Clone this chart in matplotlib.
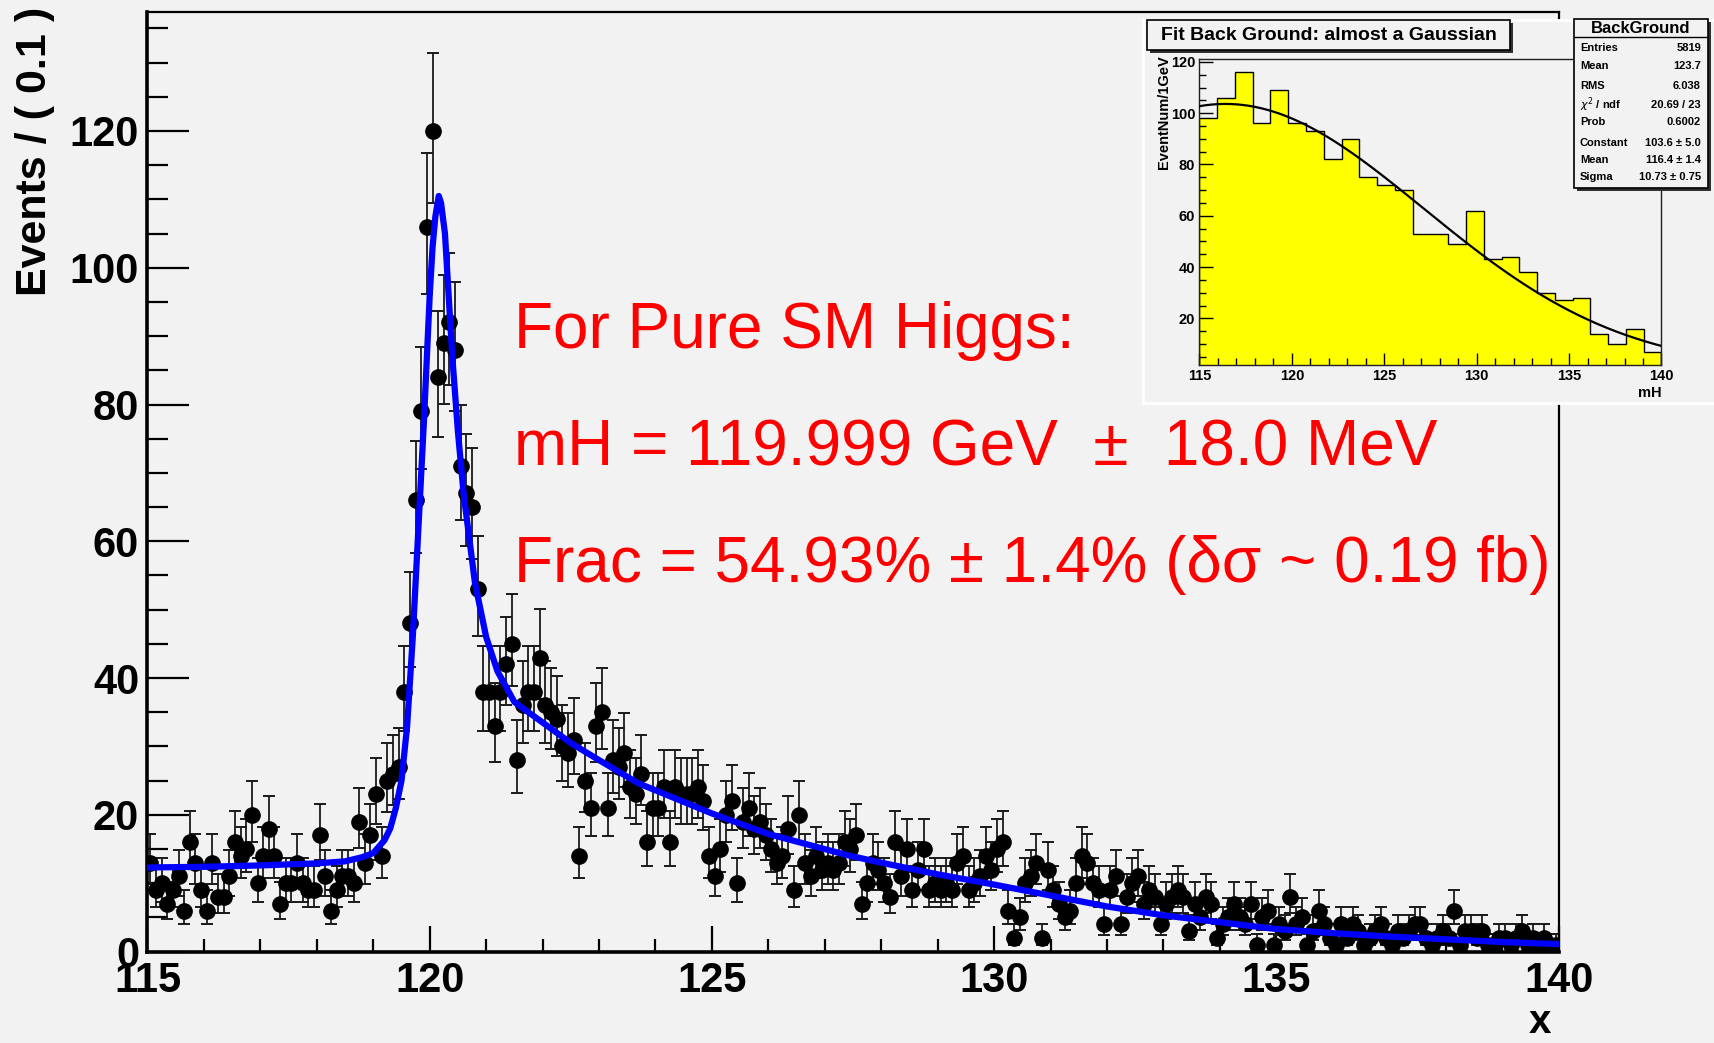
import numpy as np
import matplotlib
matplotlib.use("Agg")
import matplotlib.pyplot as plt
from matplotlib.patches import Rectangle
from matplotlib.lines import Line2D
from matplotlib.ticker import MultipleLocator

W, H = 1715, 1043
BG = "#f2f2f2"
FONT = "Liberation Sans"

# diphoton mass spectrum, events per 0.1 GeV bin starting at 115 GeV
bin_lo = 115.0
bin_width = 0.1
events = [
    13, 9, 10, 7, 9, 11, 6, 16, 13, 9,
    6, 13, 8, 8, 11, 16, 14, 15, 20, 10,
    14, 18, 14, 7, 10, 10, 13, 10, 9, 9,
    17, 11, 6, 9, 11, 11, 10, 19, 13, 17,
    23, 14, 25, 26, 27, 38, 48, 66, 79, 106,
    120, 84, 89, 92, 88, 71, 67, 65, 53, 38,
    38, 33, 38, 42, 45, 28, 36, 38, 38, 43,
    36, 35, 34, 30, 29, 31, 14, 25, 21, 33,
    35, 21, 28, 27, 29, 24, 23, 26, 16, 21,
    21, 24, 16, 24, 23, 23, 23, 24, 22, 14,
    11, 15, 20, 22, 10, 19, 21, 18, 19, 17,
    15, 13, 14, 18, 9, 20, 13, 11, 14, 12,
    13, 12, 13, 16, 15, 17, 7, 10, 13, 12,
    10, 8, 16, 11, 15, 9, 12, 15, 9, 10,
    9, 10, 9, 13, 14, 9, 10, 11, 14, 12,
    15, 16, 6, 2, 5, 10, 11, 13, 2, 12,
    9, 7, 5, 6, 10, 14, 13, 10, 9, 4,
    9, 11, 4, 8, 10, 11, 7, 9, 8, 4,
    7, 8, 9, 8, 3, 7, 5, 8, 7, 2,
    4, 5, 7, 5, 4, 7, 1, 5, 6, 1,
    4, 3, 8, 4, 5, 1, 3, 6, 4, 2,
    1, 4, 2, 4, 3, 1, 2, 3, 4, 2,
    1, 3, 2, 3, 4, 4, 2, 1, 2, 3,
    2, 6, 1, 3, 3, 2, 3, 1, 1, 2,
    2, 1, 2, 3, 1, 2, 1, 2, 1, 1,
]

# signal + background fit, sampled along the mass axis
fit_x = [115.0, 116.0, 117.0, 118.0, 118.5, 118.8, 119.0, 119.2, 119.3, 119.4,
         119.5, 119.6, 119.7, 119.8, 119.9, 120.0, 120.05, 120.1, 120.16, 120.2,
         120.27, 120.4, 120.5, 120.6, 120.8, 121.0, 121.2, 121.5, 122.0, 122.5,
         123.0, 123.7, 125.0, 126.0, 127.4, 128.0, 129.0, 130.0, 131.0, 132.0,
         133.0, 134.0, 135.0, 136.0, 137.0, 138.0, 139.0, 140.0]
fit_y = [12.3, 12.4, 12.6, 12.9, 13.2, 13.8, 14.4, 16.3, 18.0, 21.0,
         25.0, 33.0, 46.0, 62.0, 78.0, 96.0, 103.0, 107.5, 110.5, 109.5,
         105.0, 87.0, 76.0, 67.0, 54.0, 46.0, 41.0, 36.5, 33.5, 30.5,
         28.0, 24.6, 20.2, 17.2, 14.1, 13.0, 11.3, 9.8, 8.2, 6.6,
         5.3, 4.3, 3.3, 2.7, 2.2, 1.8, 1.4, 1.1]

# background-only histogram (inset)
bkg_counts = [98, 106, 116, 96, 109, 96, 93, 82, 90, 75, 72, 70, 53,
              53, 49, 62, 43, 44, 38, 30, 27, 28, 14, 10, 16, 7]
bkg_range = (115, 140)
gaus_const, gaus_mean, gaus_sigma = 103.6, 116.4, 10.73

stats_title = "BackGround"
stats_names = ["Entries", "Mean", "RMS", r"$\chi^{2}$ / ndf", "Prob",
               "Constant", "Mean", "Sigma"]
stats_values = ["5819", "123.7", "6.038", "20.69 / 23", "0.6002",
                "103.6 \u00b1 5.0", "116.4 \u00b1 1.4", "10.73 \u00b1 0.75"]

result_lines = [
    "For Pure SM Higgs:",
    "mH = 119.999 GeV  \u00b1  18.0 MeV",
    "Frac = 54.93% \u00b1 1.4% (\u03b4\u03c3 ~ 0.19 fb)",
]


def fx(px):
    return px / W


def fy(py):
    return 1 - py / H


def box(fig, x0, y0, x1, y1, shadow=3):
    # ROOT-style pave: shadow on the lower right, then the framed box
    fig.add_artist(Rectangle((fx(x0 + shadow), fy(y1 + shadow)), fx(x1 - x0), (y1 - y0) / H,
                             transform=fig.transFigure, facecolor="#303030",
                             edgecolor="none", zorder=20))
    fig.add_artist(Rectangle((fx(x0), fy(y1)), fx(x1 - x0), (y1 - y0) / H,
                             transform=fig.transFigure, facecolor=BG,
                             edgecolor="black", lw=1.2, zorder=21))


def draw_main(fig):
    n = np.array(events, dtype=float)
    x = bin_lo + bin_width * (np.arange(len(n)) + 0.5)
    err_lo = np.sqrt(n + 0.25) - 0.5
    err_hi = np.sqrt(n + 0.25) + 0.5

    ax = fig.add_axes([fx(147.5), fy(951.6), fx(1558.6 - 147.5), (951.6 - 12) / H])
    ax.set_facecolor(BG)
    ax.errorbar(x, n, yerr=[err_lo, err_hi], fmt="o", color="black", ms=11,
                capsize=4.5, elinewidth=1.3, capthick=1.4, ecolor="#1a1a1a", zorder=2)
    ax.plot(fit_x, fit_y, color="#0000ff", lw=4.5, zorder=3)

    ax.set_xlim(115, 140)
    ax.set_ylim(0, 137.4)
    ax.xaxis.set_major_locator(MultipleLocator(5))
    ax.xaxis.set_minor_locator(MultipleLocator(1))
    ax.yaxis.set_major_locator(MultipleLocator(20))
    ax.yaxis.set_minor_locator(MultipleLocator(5))
    ax.tick_params(which="both", direction="in", width=1.6, colors="black")
    ax.tick_params(axis="y", which="major", length=30, pad=6)
    ax.tick_params(axis="y", which="minor", length=15)
    ax.tick_params(axis="x", which="major", length=19, pad=7)
    ax.tick_params(axis="x", which="minor", length=9.5)
    for lab in ax.get_xticklabels() + ax.get_yticklabels():
        lab.set_fontfamily(FONT)
        lab.set_fontweight("bold")
        lab.set_fontsize(30)
    for side in ("left", "bottom"):
        ax.spines[side].set_linewidth(2.6)
    for side in ("top", "right"):
        ax.spines[side].set_linewidth(1.6)

    fig.text(fx(35), fy(151), "Events / ( 0.1 )", rotation=90, ha="center", va="center",
             fontsize=31, fontweight="bold", family=FONT)
    fig.text(fx(1540), fy(1022), "x", ha="center", va="center",
             fontsize=29, fontweight="bold", family=FONT)

    for i, line in enumerate(result_lines):
        fig.text(fx(514), fy(348 + 117 * i), line, ha="left", va="baseline",
                 fontsize=46, color="#ff0000", family=FONT, zorder=10)


def draw_inset(fig):
    panel = fig.add_axes([fx(1143), fy(403), fx(1715 - 1143), (403 - 20) / H], zorder=5)
    panel.set_facecolor(BG)
    panel.set_xticks([])
    panel.set_yticks([])
    for sp in panel.spines.values():
        sp.set_color("white")
        sp.set_linewidth(2)

    ax = fig.add_axes([fx(1199.4), fy(365), fx(1661.5 - 1199.4), (365 - 59.3) / H], zorder=6)
    ax.set_facecolor(BG)
    edges = np.linspace(bkg_range[0], bkg_range[1], len(bkg_counts) + 1)
    ax.stairs(bkg_counts, edges, fill=True, color="#ffff00", zorder=1)
    ax.stairs(bkg_counts, edges, color="black", lw=1.0, zorder=2)
    gx = np.linspace(bkg_range[0], bkg_range[1], 300)
    gy = gaus_const * np.exp(-0.5 * ((gx - gaus_mean) / gaus_sigma) ** 2)
    ax.plot(gx, gy, color="black", lw=1.6, zorder=3)

    ax.set_xlim(*bkg_range)
    ax.set_ylim(1.8, 121)
    ax.xaxis.set_major_locator(MultipleLocator(5))
    ax.xaxis.set_minor_locator(MultipleLocator(1))
    ax.yaxis.set_major_locator(MultipleLocator(20))
    ax.yaxis.set_minor_locator(MultipleLocator(5))
    ax.tick_params(which="both", direction="in", width=1.0, top=False, right=False)
    ax.tick_params(axis="y", which="major", length=10, pad=3)
    ax.tick_params(axis="y", which="minor", length=5)
    ax.tick_params(axis="x", which="major", length=8.5, pad=3)
    ax.tick_params(axis="x", which="minor", length=5)
    ax.set_yticks([20, 40, 60, 80, 100, 120])
    for lab in ax.get_xticklabels() + ax.get_yticklabels():
        lab.set_fontfamily(FONT)
        lab.set_fontweight("bold")
        lab.set_fontsize(10.5)
    for sp in ax.spines.values():
        sp.set_linewidth(1.0)
        sp.set_color("#202020")

    fig.text(fx(1164), fy(112), "EventNum/1GeV", rotation=90, ha="center", va="center",
             fontsize=10.5, fontweight="bold", family=FONT, zorder=22)
    fig.text(fx(1662), fy(393), "mH", ha="right", va="center",
             fontsize=10.5, fontweight="bold", family=FONT, zorder=22)

    # title pave
    box(fig, 1146.6, 20, 1510.4, 50)
    fig.text(fx(1328.5), fy(35.5), "Fit Back Ground: almost a Gaussian", ha="center",
             va="center", fontsize=14, fontweight="bold", family=FONT, zorder=22)

    # statistics pave
    box(fig, 1574.5, 19.3, 1707.7, 188.3)
    fig.add_artist(Line2D([fx(1574.5), fx(1707.7)], [fy(37.3), fy(37.3)],
                          transform=fig.transFigure, color="black", lw=1.0, zorder=22))
    fig.text(fx(1641), fy(28.5), stats_title, ha="center", va="center",
             fontsize=12, fontweight="bold", family=FONT, zorder=22)
    rows_y = [48.3, 66, 85.7, 105, 122.3, 142.7, 160, 177.3]
    for name, val, ry in zip(stats_names, stats_values, rows_y):
        fig.text(fx(1580), fy(ry), name, ha="left", va="center",
                 fontsize=8, fontweight="bold", family=FONT, zorder=22)
        fig.text(fx(1701), fy(ry), val, ha="right", va="center",
                 fontsize=8, fontweight="bold", family=FONT, zorder=22)


def main():
    fig = plt.figure(figsize=(W / 100, H / 100), dpi=100)
    fig.patch.set_facecolor(BG)
    draw_main(fig)
    draw_inset(fig)
    fig.savefig("out.png", dpi=100, facecolor=BG)


if __name__ == "__main__":
    main()
